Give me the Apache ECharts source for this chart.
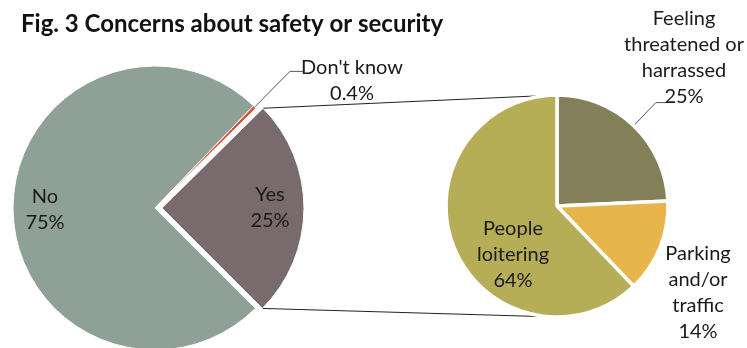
<!DOCTYPE html>
<html>
<head>
<meta charset="utf-8">
<script src="https://cdn.jsdelivr.net/npm/echarts@6/dist/echarts.min.js"></script>
<style>
  html, body { margin: 0; padding: 0; background: #fff; }
  #main { width: 747px; height: 348px; }
</style>
</head>
<body>
<div id="main"></div>
<script>
// answers (left pie)
const answerNames = ['No', "Don't know", 'Yes']
const answerValues = [75, 0.4, 25]
const answerColors = ['#8fa197', '#d8553b', '#786a6d']

// what the "Yes" people worry about (right pie)
const concernNames = ['Feeling\nthreatened or\nharrassed', 'Parking\nand/or\ntraffic', 'People\nloitering']
const concernValues = [25, 14, 64]
const concernColors = ['#837f58', '#e8b54b', '#b6ae56']

// layout
const LEFT = { cx: 155, cy: 208, r: 142, start: -45, explode: 7 }
const RIGHT = { cx: 557, cy: 206, r: 111, start: 90 }
const yesIndex = 2

// label centres and leader lines [extra radius to elbow, horizontal run]
const answerLabelAt = [[45, 210], [352, 81], [270, 208]]
const answerLeader = [null, [50, 13], null]
const concernLabelAt = [[684, 58], [698, 293], [513, 255]]
const concernLeader = [[32, 10], null, null]

function slices (values, start) {
  const total = values.reduce((a, b) => a + b, 0)
  let a = start
  return values.map(v => {
    const span = v / total * 360
    const s = { from: a, to: a - span, mid: a - span / 2 }
    a -= span
    return s
  })
}

function polar (cx, cy, r, deg) {
  const t = deg * Math.PI / 180
  return [cx + r * Math.cos(t), cy - r * Math.sin(t)]
}

const answerSlices = slices(answerValues, LEFT.start)
const concernSlices = slices(concernValues, RIGHT.start)

// the "Yes" slice is pulled out of the pie
const yesCenter = polar(LEFT.cx, LEFT.cy, LEFT.explode, answerSlices[yesIndex].mid)
const yesTop = polar(yesCenter[0], yesCenter[1], LEFT.r, answerSlices[yesIndex].from)
const yesBottom = polar(yesCenter[0], yesCenter[1], LEFT.r, answerSlices[yesIndex].to)

function leader (pie, sl, ext, run) {
  const a = polar(pie.cx, pie.cy, pie.r, sl.mid)
  const b = polar(pie.cx, pie.cy, pie.r + ext, sl.mid)
  return [a, b, [b[0] + run, b[1]]]
}

function placeLabel (pie, sl, at, lead) {
  return function (p) {
    const i = p.dataIndex
    const out = { x: at[i][0], y: at[i][1], align: 'center', verticalAlign: 'middle' }
    if (lead[i]) out.labelLinePoints = leader(pie, sl[i], lead[i][0], lead[i][1])
    return out
  }
}

const labelStyle = {
  formatter: '{b}\n{c}%',
  fontFamily: 'Lato',
  fontSize: 20,
  lineHeight: 26,
  color: '#1a1a1a',
  overflow: 'none'
}

const hidden = {
  itemStyle: { color: 'rgba(0,0,0,0)', borderWidth: 0 },
  label: { show: false },
  labelLine: { show: false }
}

// one left pie draws No / Don't know, the other only the exploded Yes
function answerData (showYes) {
  return answerNames.map((name, i) => {
    if ((i === yesIndex) !== showYes) {
      return Object.assign({ name: name, value: answerValues[i] }, hidden)
    }
    return {
      name: name,
      value: answerValues[i],
      itemStyle: { color: answerColors[i] },
      label: { position: answerLeader[i] ? 'outside' : 'inside' },
      labelLine: { show: !!answerLeader[i] }
    }
  })
}

const leftPie = {
  type: 'pie',
  radius: LEFT.r,
  startAngle: LEFT.start,
  clockwise: true,
  avoidLabelOverlap: false,
  silent: true,
  itemStyle: { borderColor: '#fff', borderWidth: 1 },
  label: labelStyle,
  labelLine: { lineStyle: { color: '#555', width: 1 } },
  labelLayout: placeLabel(LEFT, answerSlices, answerLabelAt, answerLeader)
}

let chart = echarts.init(document.getElementById('main'))

let option = {
  animation: false,
  title: {
    text: 'Fig. 3 Concerns about safety or security',
    left: 16,
    top: 7,
    textStyle: { fontFamily: 'Lato', fontWeight: 'bold', fontSize: 24, color: '#111' }
  },
  graphic: [
    {
      type: 'line', z: 0, silent: true,
      shape: { x1: yesTop[0], y1: yesTop[1], x2: RIGHT.cx, y2: RIGHT.cy - RIGHT.r },
      style: { stroke: '#222', lineWidth: 1 }
    },
    {
      type: 'line', z: 0, silent: true,
      shape: { x1: yesBottom[0], y1: yesBottom[1], x2: RIGHT.cx, y2: RIGHT.cy + RIGHT.r },
      style: { stroke: '#222', lineWidth: 1 }
    }
  ],
  series: [
    Object.assign({}, leftPie, { center: [LEFT.cx, LEFT.cy], data: answerData(false) }),
    Object.assign({}, leftPie, { center: yesCenter, data: answerData(true) }),
    {
      type: 'pie',
      center: [RIGHT.cx, RIGHT.cy],
      radius: RIGHT.r,
      startAngle: RIGHT.start,
      clockwise: true,
      avoidLabelOverlap: false,
      silent: true,
      itemStyle: { borderColor: '#fff', borderWidth: 3.5 },
      label: labelStyle,
      labelLine: { lineStyle: { color: '#555', width: 1 } },
      labelLayout: placeLabel(RIGHT, concernSlices, concernLabelAt, concernLeader),
      data: concernNames.map((name, i) => ({
        name: name,
        value: concernValues[i],
        itemStyle: { color: concernColors[i] },
        label: { position: concernLeader[i] ? 'outside' : 'inside' },
        labelLine: { show: !!concernLeader[i] }
      }))
    }
  ]
}

chart.setOption(option)
</script>
</body>
</html>
